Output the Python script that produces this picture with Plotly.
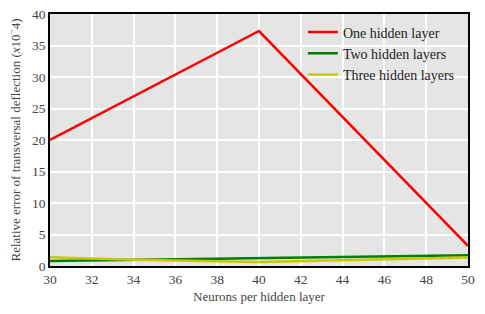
import plotly.graph_objects as go

neurons = [30, 34, 40, 50]
one_layer_x = [30, 40, 50]
one_layer = [20.0, 37.3, 3.2]
two_layers = [0.8, 1.0, 1.3, 1.7]
three_layers = [1.4, 1.0, 0.65, 1.35]
x_ticks = list(range(30, 51, 2))
y_ticks = list(range(0, 41, 5))

fig = go.Figure()
fig.add_trace(go.Scatter(x=one_layer_x, y=one_layer, mode="lines",
                         name="One hidden layer", line=dict(color="#ff0000", width=2.5)))
fig.add_trace(go.Scatter(x=neurons, y=two_layers, mode="lines",
                         name="Two hidden layers", line=dict(color="#008000", width=2.5)))
fig.add_trace(go.Scatter(x=neurons, y=three_layers, mode="lines",
                         name="Three hidden layers", line=dict(color="#c8c800", width=2.5)))

serif = "Liberation Serif, Times New Roman, serif"
fig.update_layout(
    width=485, height=314,
    margin=dict(l=50, r=17, t=14, b=48),
    paper_bgcolor="white", plot_bgcolor="#e5e5e5",
    font=dict(family=serif, size=13, color="#444444"),
    showlegend=True,
    legend=dict(x=0.605, y=0.99, xanchor="left", yanchor="top", bgcolor="rgba(0,0,0,0)",
                font=dict(family=serif, size=14, color="#222222"),
                tracegroupgap=0),
)
fig.update_xaxes(range=[30, 50], tickvals=x_ticks, showgrid=True, gridcolor="white", gridwidth=1.5,
                 zeroline=False, showline=True, linecolor="black", linewidth=1.5, mirror=True,
                 ticks="", automargin=False, tickfont=dict(size=13.5), ticklabeloverflow="allow",
                 title=dict(text="Neurons per hidden layer", standoff=6, font=dict(size=13)))
fig.update_yaxes(range=[0, 40], tickvals=y_ticks, showgrid=True, gridcolor="white", gridwidth=1.5,
                 zeroline=False, showline=True, linecolor="black", linewidth=1.5, mirror=True,
                 ticks="", automargin=False, tickfont=dict(size=13.5), ticklabeloverflow="allow",
                 title=dict(text="Relative error of transversal deflection (<i>x</i>10<sup>−</sup>4)",
                            standoff=8, font=dict(size=13)))
fig.write_html("out.html", config={"displayModeBar": False},
               post_script="document.body.style.margin='0px';")
